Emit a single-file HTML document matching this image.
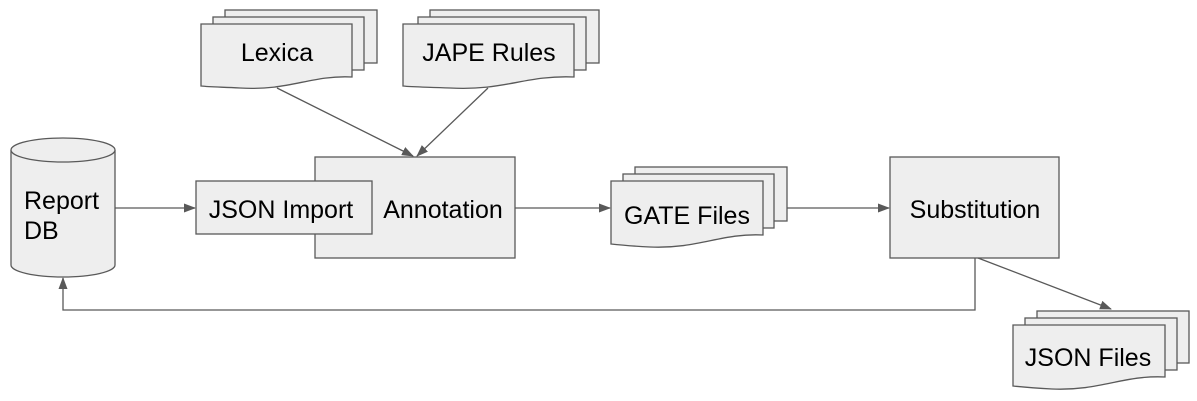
<!DOCTYPE html>
<html><head><meta charset="utf-8"><style>
html,body{margin:0;padding:0;background:#fff;}
svg{display:block;}
text{font-family:"Liberation Sans",Arial,sans-serif;font-size:25px;fill:#000;}
</style></head><body>
<svg width="1197" height="401" viewBox="0 0 1197 401" xmlns="http://www.w3.org/2000/svg">
<defs>
<marker id="a" markerWidth="12" markerHeight="9" refX="11" refY="4.5" orient="auto" markerUnits="userSpaceOnUse">
<path d="M0,0 L12,4.5 L0,9 Z" fill="#595959"/>
</marker>
</defs>
<g fill="#eeeeee" stroke="#595959" stroke-width="1.3">
<rect x="225" y="10" width="152" height="53"/>
<rect x="213" y="17" width="151" height="53"/>
<path d="M201,24 L352,24 L352,77 C310,75 290,91 240,88 C220,87 210,87 201,86 Z"/>
<rect x="430" y="10" width="169" height="53"/>
<rect x="418" y="17" width="168" height="53"/>
<path d="M403,24 L574,24 L574,77 C525,75 505,91 450,88 C425,87 412,87 403,86 Z"/>
<rect x="315" y="157" width="200" height="101"/>
<rect x="196" y="181" width="176" height="53"/>
<path d="M11,150 L11,265 A52,12 0 0 0 115,265 L115,150"/>
<ellipse cx="63" cy="150" rx="52" ry="12"/>
<rect x="635" y="167" width="152" height="54"/>
<rect x="623" y="174" width="151" height="54"/>
<path d="M611,181 L763,181 L763,235 C720,233 700,249 650,247 C630,246 620,245 611,244 Z"/>
<rect x="890" y="157" width="169" height="101"/>
<rect x="1037" y="311" width="152" height="52"/>
<rect x="1025" y="318" width="152" height="52"/>
<path d="M1013,325 L1165,325 L1165,377 C1122,375 1102,391 1052,389 C1032,388 1022,387 1013,386 Z"/>
</g>
<g stroke="#595959" stroke-width="1.3" fill="none">
<line x1="277" y1="88" x2="413" y2="156" marker-end="url(#a)"/>
<line x1="488" y1="88" x2="417" y2="156" marker-end="url(#a)"/>
<line x1="115" y1="208" x2="195" y2="208" marker-end="url(#a)"/>
<line x1="515" y1="208" x2="610" y2="208" marker-end="url(#a)"/>
<line x1="787" y1="208" x2="889" y2="208" marker-end="url(#a)"/>
<line x1="978" y1="258" x2="1111" y2="309" marker-end="url(#a)"/>
<polyline points="975,258 975,310 63,310 63,278" marker-end="url(#a)"/>
</g>
<text x="277" y="61" text-anchor="middle">Lexica</text>
<text x="489" y="61" text-anchor="middle">JAPE Rules</text>
<text x="24" y="209">Report</text>
<text x="24" y="239">DB</text>
<text x="281" y="218" text-anchor="middle">JSON Import</text>
<text x="443" y="218" text-anchor="middle">Annotation</text>
<text x="687" y="224" text-anchor="middle">GATE Files</text>
<text x="975" y="218" text-anchor="middle">Substitution</text>
<text x="1088" y="366" text-anchor="middle">JSON Files</text>
</svg>
</body></html>
